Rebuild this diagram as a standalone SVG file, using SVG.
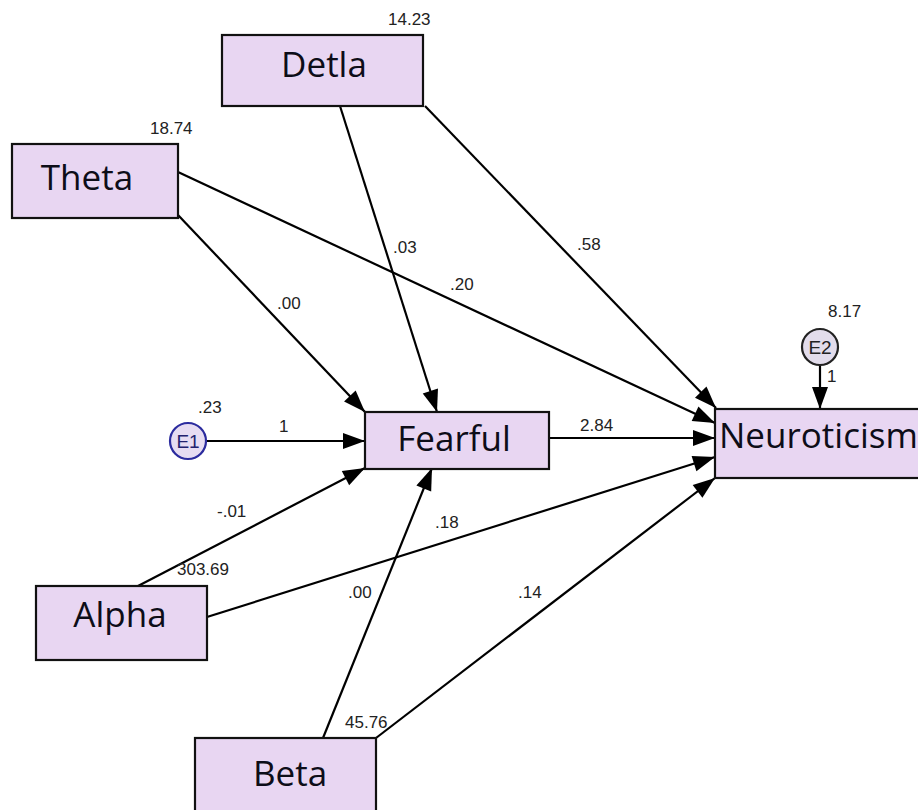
<svg xmlns="http://www.w3.org/2000/svg" width="918" height="810" viewBox="0 0 918 810">
<defs>
<marker id="ah" markerUnits="userSpaceOnUse" markerWidth="24" markerHeight="18" refX="23" refY="9" orient="auto">
<path d="M1,1 L23,9 L1,17 z" fill="#000"/>
</marker>
<style>
.box{fill:#e8d6f2;stroke:#111;stroke-width:2.2}
.big{font-family:"Open Sans","Noto Sans",sans-serif;font-size:35px;fill:#0d0d18}
.lbl{font-family:"Liberation Sans",Arial,sans-serif;font-size:17px;fill:#222}
.edge{stroke:#000;stroke-width:2.2;fill:none;marker-end:url(#ah)}
.err{font-family:"Liberation Sans",Arial,sans-serif;font-size:19px}
</style>
</defs>
<rect width="918" height="810" fill="#fff"/>
<g id="connectors">
<line class="edge" x1="340" y1="106" x2="437" y2="412"/>
<line class="edge" x1="425" y1="106" x2="716" y2="408"/>
<line class="edge" x1="178" y1="215" x2="365" y2="412"/>
<line class="edge" x1="178" y1="172" x2="715" y2="423"/>
<line class="edge" x1="206" y1="441" x2="365" y2="441"/>
<line class="edge" x1="549" y1="438" x2="715" y2="438"/>
<line class="edge" x1="138" y1="586" x2="365" y2="468"/>
<line class="edge" x1="207" y1="617" x2="715" y2="457"/>
<line class="edge" x1="323" y1="738" x2="432" y2="468"/>
<line class="edge" x1="376" y1="738" x2="715" y2="478"/>
<line class="edge" x1="820" y1="365" x2="820" y2="409"/>
<text class="lbl" x="393" y="253">.03</text>
<text class="lbl" x="577" y="250">.58</text>
<text class="lbl" x="450" y="290">.20</text>
<text class="lbl" x="277" y="309">.00</text>
<text class="lbl" x="279" y="432">1</text>
<text class="lbl" x="580" y="431">2.84</text>
<text class="lbl" x="217" y="517">-.01</text>
<text class="lbl" x="435" y="528">.18</text>
<text class="lbl" x="348" y="598">.00</text>
<text class="lbl" x="518" y="598">.14</text>
<text class="lbl" x="827" y="382">1</text>
</g>
<g id="Detla">
<rect class="box" x="222" y="35" width="201" height="71"/>
<text class="big" x="324" y="77" text-anchor="middle">Detla</text>
<text class="lbl" x="388" y="25">14.23</text>
</g>
<g id="Theta">
<rect class="box" x="12" y="144" width="166" height="74"/>
<text class="big" x="87" y="190" text-anchor="middle">Theta</text>
<text class="lbl" x="150" y="134">18.74</text>
</g>
<g id="Fearful">
<rect class="box" x="365" y="412" width="184" height="57"/>
<text class="big" x="454" y="451" text-anchor="middle">Fearful</text>
</g>
<g id="Neuroticism">
<rect class="box" x="715" y="409" width="220" height="69"/>
<text class="big" x="719" y="448">Neuroticism</text>
</g>
<g id="Alpha">
<rect class="box" x="36" y="586" width="171" height="74"/>
<text class="big" x="120" y="627" text-anchor="middle">Alpha</text>
<text class="lbl" x="177" y="575">303.69</text>
</g>
<g id="Beta">
<rect class="box" x="195" y="738" width="181" height="80"/>
<text class="big" x="290" y="786" text-anchor="middle">Beta</text>
<text class="lbl" x="345" y="728">45.76</text>
</g>
<g id="E1">
<circle cx="188" cy="441" r="18" fill="#e6dcf2" stroke="#2b2b9e" stroke-width="2.2"/>
<text class="err" x="188" y="448" text-anchor="middle" fill="#22226e">E1</text>
<text class="lbl" x="198" y="413">.23</text>
</g>
<g id="E2">
<circle cx="820" cy="347" r="18" fill="#e2dceb" stroke="#222" stroke-width="2.2"/>
<text class="err" x="820" y="354" text-anchor="middle" fill="#222">E2</text>
<text class="lbl" x="828" y="317">8.17</text>
</g>
</svg>
